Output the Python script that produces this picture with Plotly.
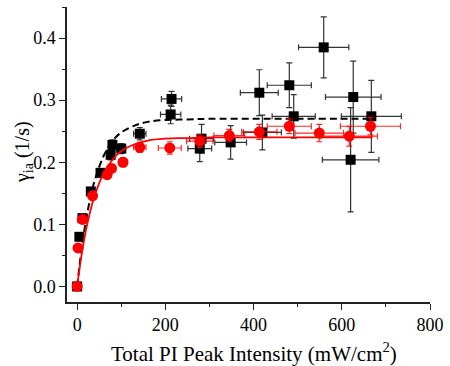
import plotly.graph_objects as go

# Black squares
blk_x = [0, 5, 12, 31, 53, 76, 80, 100, 142, 212, 214, 278, 282, 348, 413, 420, 481, 491, 559, 620, 626, 667]
blk_y = [0, 0.080, 0.110, 0.153, 0.183, 0.212, 0.228, 0.222, 0.246, 0.277, 0.302, 0.222, 0.238, 0.232,
         0.312, 0.248, 0.324, 0.274, 0.385, 0.204, 0.305, 0.274]
blk_xerr = [0, 1, 2, 4, 6, 8, 8, 10, 14, 23, 23, 27, 27, 36, 43, 43, 50, 49, 57, 64, 63, 68]
blk_yerr = [0.005, 0.005, 0.005, 0.006, 0.006, 0.008, 0.008, 0.008, 0.010, 0.015, 0.012, 0.021, 0.023,
            0.027, 0.037, 0.028, 0.036, 0.035, 0.049, 0.084, 0.058, 0.058]

# Red circles
red_x = [0, 2, 12, 35, 68, 78, 104, 142, 210, 278, 345, 413, 481, 549, 617, 665]
red_y = [0, 0.062, 0.108, 0.146, 0.180, 0.190, 0.200, 0.224, 0.223, 0.234, 0.243, 0.249, 0.258, 0.247,
         0.242, 0.258]
red_xerr = [0, 1, 2, 4, 6, 8, 10, 14, 26, 30, 35, 40, 50, 55, 64, 68]
red_yerr = [0.003, 0.004, 0.004, 0.005, 0.005, 0.006, 0.007, 0.008, 0.010, 0.010, 0.010, 0.012, 0.012,
            0.014, 0.016, 0.014]

# Fit curves
fit_x = [0, 10, 20, 30, 40, 60, 80, 100, 130, 160, 200, 250, 300, 400, 500, 600, 670]
blk_fit = [0, 0.060, 0.106, 0.143, 0.171, 0.210, 0.234, 0.248, 0.259, 0.265, 0.268, 0.269, 0.270,
           0.270, 0.270, 0.270, 0.270]
red_fit = [0, 0.051, 0.091, 0.122, 0.147, 0.182, 0.204, 0.218, 0.229, 0.235, 0.238, 0.239, 0.240,
           0.240, 0.240, 0.240, 0.240]

x_ticks = [0, 200, 400, 600, 800]
y_ticks = [0.0, 0.1, 0.2, 0.3, 0.4]

FONT = "Times New Roman, Liberation Serif, serif"

fig = go.Figure()
fig.add_trace(go.Scatter(
    x=blk_x, y=blk_y, mode="markers",
    marker=dict(symbol="square", size=10, color="black"),
    error_x=dict(type="data", array=blk_xerr, color="#333333", thickness=1.2, width=3),
    error_y=dict(type="data", array=blk_yerr, color="#333333", thickness=1.2, width=3),
    showlegend=False))
fig.add_trace(go.Scatter(
    x=fit_x, y=blk_fit, mode="lines",
    line=dict(color="black", width=2, dash="7px,4px", shape="spline"),
    showlegend=False))
fig.add_trace(go.Scatter(
    x=red_x, y=red_y, mode="markers",
    marker=dict(symbol="circle", size=11, color="red"),
    error_x=dict(type="data", array=red_xerr, color="rgba(255,0,0,0.85)", thickness=1.2, width=3),
    error_y=dict(type="data", array=red_yerr, color="rgba(255,0,0,0.85)", thickness=1.2, width=3),
    showlegend=False))
fig.add_trace(go.Scatter(
    x=fit_x, y=red_fit, mode="lines", line=dict(color="red", width=1.8, shape="spline"),
    showlegend=False))

axis_common = dict(
    showline=True, linecolor="#222222", linewidth=1.5, showgrid=False, zeroline=False,
    ticks="outside", ticklen=6, tickwidth=1.2, tickcolor="#222222",
    tickfont=dict(family=FONT, size=18, color="black"),
    mirror=False, automargin=False,
)
fig.update_xaxes(range=[-23, 800], tickvals=x_ticks, ticktext=[str(v) for v in x_ticks],
                 minor=dict(dtick=100, tick0=0, ticks="outside", ticklen=3, tickcolor="#222222"),
                 **axis_common)
fig.update_yaxes(range=[-0.025, 0.45], tickvals=y_ticks, ticktext=[f"{v:.1f}" for v in y_ticks],
                 minor=dict(dtick=0.05, tick0=0, ticks="outside", ticklen=3, tickcolor="#222222"),
                 **axis_common)
fig.update_layout(
    width=450, height=366,
    margin=dict(l=67, r=20, t=7, b=64),
    plot_bgcolor="white", paper_bgcolor="white",
    annotations=[
        dict(text="Total PI Peak Intensity (mW/cm<sup>2</sup>)", xref="paper", yref="paper",
             x=0.515, y=-0.17, xanchor="center", yanchor="middle", showarrow=False,
             font=dict(family=FONT, size=21, color="black")),
        dict(text="γ<sub>ia</sub> (1/s)", xref="paper", yref="paper",
             x=-0.12, y=0.51, xanchor="center", yanchor="middle", textangle=-90, showarrow=False,
             font=dict(family=FONT, size=20, color="black")),
    ],
)
fig.write_html("out.html", config={"displayModeBar": False},
               post_script="document.body.style.margin='0';document.body.style.padding='0';")
